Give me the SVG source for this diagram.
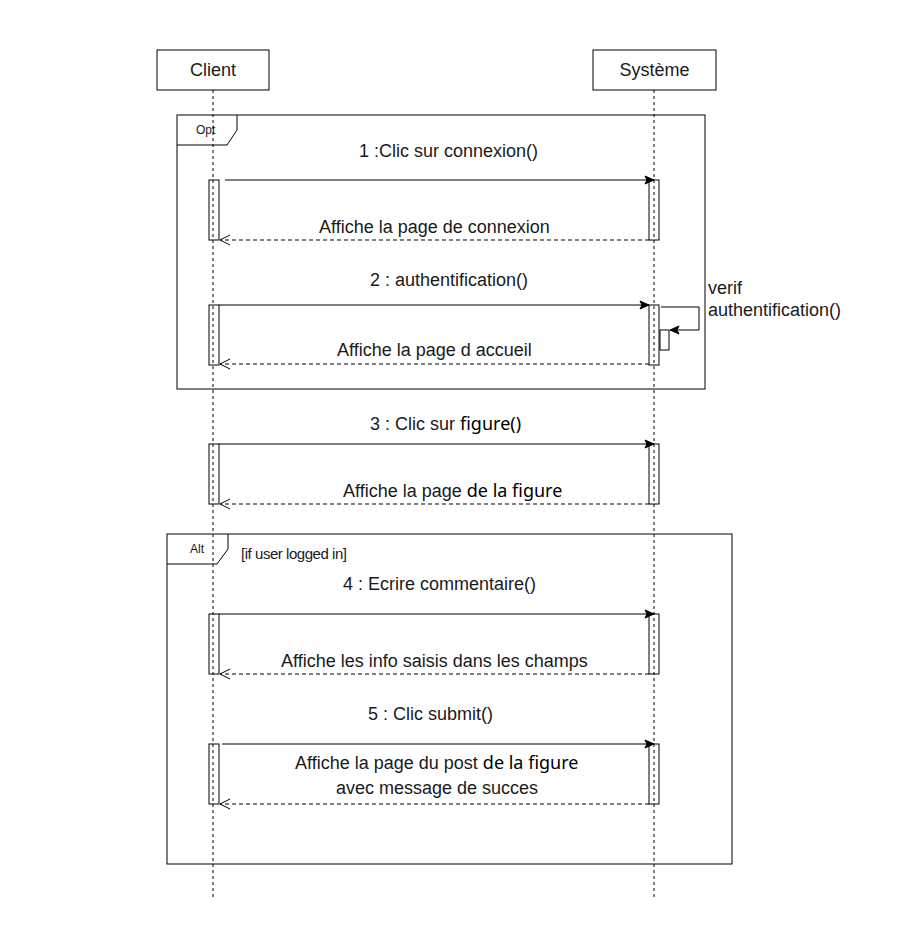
<svg xmlns="http://www.w3.org/2000/svg" width="903" height="944" viewBox="0 0 903 944">
  <style>
    .box { fill: #ffffff; stroke: #000000; stroke-width: 1; }
    .frame { fill: none; stroke: #000000; stroke-width: 1; }
    .bar { fill: #ffffff; stroke: #000000; stroke-width: 1; }
    .life { stroke: #000000; stroke-width: 1; stroke-dasharray: 3 3; fill: none; }
    .msg { stroke: #000000; stroke-width: 1; fill: none; }
    .ret { stroke: #000000; stroke-width: 1; stroke-dasharray: 4 3; fill: none; }
    .t { font-family: "Liberation Sans", Arial, sans-serif; font-size: 18px; fill: #1a1a1a; }
    .small { font-family: "Liberation Sans", Arial, sans-serif; font-size: 12px; fill: #1a1a1a; }
    .guard { font-family: "Liberation Sans", Arial, sans-serif; font-size: 15px; fill: #1a1a1a; }
    .alt { font-family: "Noto Sans", sans-serif; font-size: 18px; fill: #000000; }
  </style>
  <defs>
    <marker id="sync" markerWidth="12" markerHeight="12" refX="10" refY="6" orient="auto" markerUnits="userSpaceOnUse">
      <path d="M1,2 L10,6 L1,10 L3,6 Z" fill="#000000" stroke="#000000" stroke-width="1"/>
    </marker>
    <marker id="open" markerWidth="14" markerHeight="14" refX="12" refY="7" orient="auto" markerUnits="userSpaceOnUse">
      <path d="M2,2 L12,7 L2,12" fill="none" stroke="#000000" stroke-width="1"/>
    </marker>
  </defs>

  <rect width="903" height="944" fill="#ffffff"/>

  <!-- combined fragments -->
  <g id="frame-opt">
    <rect class="frame" x="177" y="115" width="528" height="274"/>
    <path class="frame" d="M177,145 L227,145 L237,130 L237,115"/>
    <text class="small" x="196" y="134">Opt</text>
  </g>
  <g id="frame-alt">
    <rect class="frame" x="167" y="534" width="565" height="330"/>
    <path class="frame" d="M167,564 L217,564 L228,549 L228,534"/>
    <text class="small" x="190" y="553">Alt</text>
    <text class="guard" x="241" y="559" textLength="106">[if user logged in]</text>
  </g>

  <!-- participants -->
  <g id="client">
    <rect class="box" x="157" y="50" width="112" height="40"/>
    <text class="t" x="213" y="76" text-anchor="middle">Client</text>
  </g>
  <g id="systeme">
    <rect class="box" x="593" y="50" width="123" height="40"/>
    <text class="t" x="654.5" y="76" text-anchor="middle">Système</text>
  </g>

  <!-- activation bars -->
  <g id="activations">
    <rect class="bar" x="209" y="180" width="10" height="60"/>
    <rect class="bar" x="649" y="180" width="10" height="60"/>
    <rect class="bar" x="209" y="305" width="10" height="60"/>
    <rect class="bar" x="649" y="305" width="10" height="60"/>
    <rect class="bar" x="660" y="330" width="9" height="20"/>
    <rect class="bar" x="209" y="444" width="10" height="60"/>
    <rect class="bar" x="649" y="444" width="10" height="60"/>
    <rect class="bar" x="209" y="614" width="10" height="60"/>
    <rect class="bar" x="649" y="614" width="10" height="60"/>
    <rect class="bar" x="209" y="744" width="10" height="60"/>
    <rect class="bar" x="649" y="744" width="10" height="60"/>
  </g>

  <!-- lifelines -->
  <g id="lifelines">
    <line class="life" x1="213" y1="90" x2="213" y2="900"/>
    <line class="life" x1="654" y1="90" x2="654" y2="900"/>
  </g>

  <!-- messages and replies -->
  <g id="connectors">
    <line class="msg" x1="225" y1="180" x2="654" y2="180" marker-end="url(#sync)"/>
    <line class="ret" x1="649" y1="240" x2="220" y2="240" marker-end="url(#open)"/>

    <line class="msg" x1="219" y1="305" x2="649" y2="305" marker-end="url(#sync)"/>
    <path class="msg" d="M661,307 L699,307 L699,330 L670,330" marker-end="url(#sync)"/>
    <line class="ret" x1="649" y1="364" x2="220" y2="364" marker-end="url(#open)"/>

    <line class="msg" x1="219" y1="444" x2="654" y2="444" marker-end="url(#sync)"/>
    <line class="ret" x1="649" y1="504" x2="220" y2="504" marker-end="url(#open)"/>

    <line class="msg" x1="219" y1="614" x2="654" y2="614" marker-end="url(#sync)"/>
    <line class="ret" x1="649" y1="674" x2="220" y2="674" marker-end="url(#open)"/>

    <line class="msg" x1="222" y1="744" x2="654" y2="744" marker-end="url(#sync)"/>
    <line class="ret" x1="649" y1="804" x2="220" y2="804" marker-end="url(#open)"/>
  </g>

  <!-- message labels -->
  <g id="labels">
    <text class="t" x="359" y="157">1 :Clic sur connexion()</text>
    <text class="t" x="319" y="233">Affiche la page de connexion</text>
    <text class="t" x="370" y="286">2 : authentification()</text>
    <text class="t" x="708" y="294">verif</text>
    <text class="t" x="708" y="316">authentification()</text>
    <text class="t" x="337" y="356">Affiche la page d accueil</text>
    <text class="t" x="370" y="430">3 : Clic sur <tspan class="alt">figure()</tspan></text>
    <text class="t" x="343" y="497">Affiche la page <tspan class="alt">de la figure</tspan></text>
    <text class="t" x="343" y="590">4 : Ecrire commentaire()</text>
    <text class="t" x="281" y="667">Affiche les info saisis dans les champs</text>
    <text class="t" x="368" y="720">5 : Clic submit()</text>
    <text class="t" x="295" y="769">Affiche la page du post <tspan class="alt">de la figure</tspan></text>
    <text class="t" x="336" y="794">avec message de succes</text>
  </g>
</svg>
